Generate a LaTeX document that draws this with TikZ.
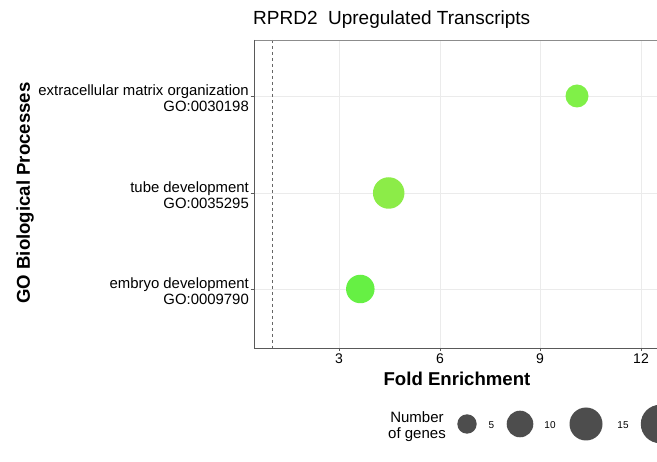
\documentclass[tikz,border=0pt]{standalone}
\usepackage{fontspec}
\setmainfont{Liberation Sans}
\usepackage{xcolor}
\usetikzlibrary{positioning}

\definecolor{ecmgreen}{RGB}{128,240,72}
\definecolor{tubegreen}{RGB}{140,236,72}
\definecolor{embgreen}{RGB}{102,240,68}
\definecolor{keygray}{RGB}{77,77,77}
\definecolor{gridgray}{RGB}{235,235,235}

\begin{document}
\begin{tikzpicture}[
  x=1pt, y=-1pt,
  grid/.style={draw=gridgray, line width=0.8pt},
  frame/.style={draw=black!65, line width=0.9pt},
  tck/.style={draw=black!65, line width=0.6pt},
  term/.style={anchor=east, align=right, font=\fontsize{14.9}{16}\selectfont, inner sep=0pt},
  ticklbl/.style={font=\fontsize{14}{16}\selectfont, inner sep=0pt},
  axtitle/.style={font=\fontsize{18.6}{20}\selectfont\bfseries, inner sep=0pt},
  dot/.style={circle, inner sep=0pt, draw=none},
  keydot/.style={dot, fill=keygray},
  keylbl/.style={font=\fontsize{10}{12}\selectfont, inner sep=0pt},
]
\useasboundingbox (0,0) rectangle (657,462);

% panel grid
\foreach \gx in {339,440,540,641}
  \draw[grid] (\gx,40) -- (\gx,348);
\foreach \gy in {96,193,289}
  \draw[grid] (254,\gy) -- (657,\gy);

% reference line at fold enrichment 1
\draw[black!60, dashed, line width=0.5pt] (272,40) -- (272,348);

% panel border
\draw[draw=black!45, line width=0.8pt] (254,40) -- (657,40);
\draw[frame] (254,40) -- (254,348) -- (657,348);

% ticks
\foreach \gx/\v in {339/3,440/6,540/9,641/12} {
  \draw[tck] (\gx,348) -- (\gx,351.5);
  \node[ticklbl, anchor=north] (tick\v) at (\gx,354) {\v};
}
\foreach \gy in {96,193,289}
  \draw[tck] (250.5,\gy) -- (254,\gy);

% terms
\node[term] (ecmlbl) at (249,98) {extracellular matrix organization\\GO:0030198};
\node[term] (tubelbl) at (249,195) {tube development\\GO:0035295};
\node[term] (emblbl) at (249,291) {embryo development\\GO:0009790};

% points
\node[dot, fill=ecmgreen, minimum size=23pt] (ecm) at (577,96) {};
\node[dot, fill=tubegreen, minimum size=31.5pt] (tube) at (388.7,193) {};
\node[dot, fill=embgreen, minimum size=28.5pt] (emb) at (360.3,289) {};

% titles
\node[font=\fontsize{19}{22}\selectfont, anchor=west, inner sep=0pt] (title) at (253,20) {RPRD2\ \ Upregulated Transcripts};
\node[axtitle] (xtitle) at (457,379) {Fold Enrichment};
\node[axtitle, rotate=90] (ytitle) at (25,193) {GO Biological Processes};

% size key
\node[align=center, font=\fontsize{15}{16}\selectfont, inner sep=0pt] (keytitle) at (417,427) {Number\\of genes};
\node[keydot, minimum size=19.4pt] (k5) at (467,424) {};
\node[keylbl] (k5lbl) at (491.5,425) {5};
\node[keydot, minimum size=26.6pt] (k10) at (520,424) {};
\node[keylbl] (k10lbl) at (550,425) {10};
\node[keydot, minimum size=33pt] (k15) at (586,424) {};
\node[keylbl] (k15lbl) at (623,425) {15};
\node[keydot, minimum size=38.4pt] (k20) at (660,424) {};
\end{tikzpicture}
\end{document}
